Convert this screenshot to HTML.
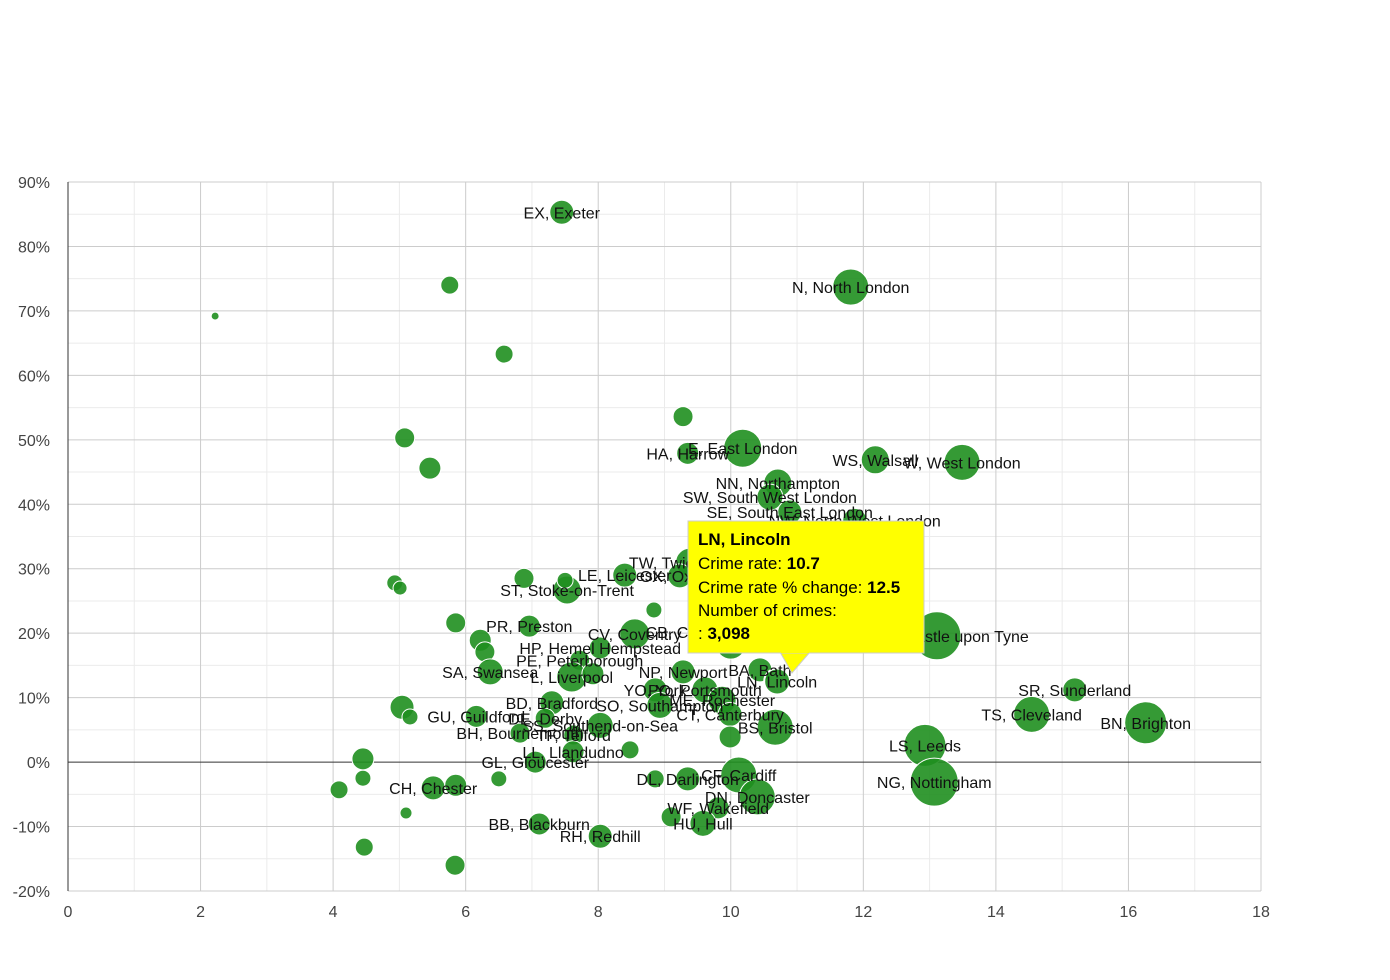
<!DOCTYPE html>
<html><head><meta charset="utf-8"><style>
body{margin:0;background:#fff;}
svg{display:block;font-family:"Liberation Sans",Arial,sans-serif;}
</style></head><body>
<svg id="chart" width="1390" height="980" viewBox="0 0 1390 980">
<g id="grid"></g>
<g id="axes"></g>
<g id="bubbles"></g>
<g id="labels"></g>
<g id="tooltip">
<polygon points="780,652 810,652 792,673" fill="#ffff00" stroke="#cccccc"/>
<rect x="688" y="521" width="236" height="132" fill="#ffff00" stroke="#cccccc"/>
<rect x="781" y="650" width="28" height="3" fill="#ffff00"/>
<text x="698" y="545" font-size="17" font-weight="bold">LN, Lincoln</text>
<text x="698" y="569" font-size="17">Crime rate: <tspan font-weight="bold">10.7</tspan></text>
<text x="698" y="593" font-size="17">Crime rate % change: <tspan font-weight="bold">12.5</tspan></text>
<text x="698" y="616" font-size="17">Number of crimes:</text>
<text x="698" y="639" font-size="17">: <tspan font-weight="bold">3,098</tspan></text>
</g>
</svg>
<script>
const labels=["EX, Exeter","N, North London","","","","","","","HA, Harrow","E, East London","WS, Walsall","W, West London","NN, Northampton","SW, South West London","SE, South East London","NW, North West London","TW, Twickenham","LE, Leicester","OX, Oxford","ST, Stoke-on-Trent","","","","","","PR, Preston","","","","CV, Coventry","CB, Cambridge","HP, Hemel Hempstead","PE, Peterborough","SA, Swansea","L, Liverpool","","NP, Newport","BA, Bath","LN, Lincoln","PO, Portsmouth","YO, York","SO, Southampton","ME, Rochester","CT, Canterbury","BS, Bristol","BD, Bradford","GU, Guildford","","","DE, Derby","SS, Southend-on-Sea","BH, Bournemouth","TF, Telford","","LL, Llandudno","","GL, Gloucester","","","CH, Chester","","","","DL, Darlington","","CF, Cardiff","DN, Doncaster","WF, Wakefield","HU, Hull","","BB, Blackburn","RH, Redhill","","","","SR, Sunderland","TS, Cleveland","BN, Brighton","LS, Leeds","NG, Nottingham","NE, Newcastle upon Tyne","S, Sheffield","",""];
const crimeRate=[7.45,11.81,5.76,2.22,6.58,9.28,5.08,5.46,9.35,10.18,12.18,13.49,10.71,10.59,10.89,11.87,9.38,8.40,9.23,7.53,6.88,7.50,4.93,5.01,8.84,6.96,5.85,6.22,6.29,8.55,9.54,8.03,7.72,6.37,7.60,7.92,9.28,10.44,10.70,9.61,8.86,8.93,9.87,9.99,10.67,7.30,6.16,5.04,5.16,7.20,8.03,6.82,7.63,9.99,7.62,8.48,7.05,4.45,4.45,5.51,5.85,4.09,6.50,9.35,8.86,10.12,10.40,9.81,9.58,9.10,7.11,8.03,5.10,4.47,5.84,15.19,14.54,16.26,12.93,13.07,13.11,12.25,10.0,9.53];
const pctChange=[85.3,73.7,74.0,69.2,63.3,53.6,50.3,45.6,47.9,48.7,46.9,46.5,43.3,41.1,38.8,37.5,31.0,29.0,28.9,26.7,28.5,28.2,27.8,27.0,23.6,21.1,21.6,18.9,17.1,19.9,20.2,17.7,15.8,14.0,13.2,13.7,14.0,14.3,12.5,11.2,11.2,8.8,9.6,7.4,5.4,9.2,7.1,8.5,7.0,6.8,5.7,4.5,4.2,3.9,1.6,1.9,0,0.5,-2.5,-4.0,-3.6,-4.3,-2.6,-2.6,-2.6,-2.0,-5.4,-7.1,-9.5,-8.5,-9.6,-11.5,-7.9,-13.2,-16.0,11.2,7.4,6.1,2.6,-3.1,19.6,22.0,18.3,25.6];
const crimes=[2640,5940,1480,290,1480,1830,1830,2220,2220,6620,3590,5940,3590,3100,2640,2640,3590,2640,2640,3590,1830,1170,1170,900,1170,2220,1830,2220,1830,4120,2640,2220,1830,3100,4120,2220,2640,2640,3098,3100,2640,3100,3590,2640,5940,2640,2220,2640,1170,1830,3100,1830,1830,2220,2220,1480,2220,2220,1170,2640,2220,1480,1170,2640,1480,5940,5940,2220,3100,1830,2220,2640,660,1480,1830,2640,5940,8080,8080,10560,10560,4120,4120,2640];
const xTicks=[0,2,4,6,8,10,12,14,16,18];
const yTicks=[-20,-10,0,10,20,30,40,50,60,70,80,90];
const NS="http://www.w3.org/2000/svg";
const X0=68,X1=1261,Y0=891,Y1=182,xMin=0,xMax=18,yMin=-20,yMax=90;
const sx=v=>X0+(v-xMin)/(xMax-xMin)*(X1-X0);
const sy=v=>Y0-(v-yMin)/(yMax-yMin)*(Y0-Y1);
const sr=c=>0.2336*Math.sqrt(c);
function mk(tag,attrs,parent){const e=document.createElementNS(NS,tag);for(const k in attrs)e.setAttribute(k,attrs[k]);parent.appendChild(e);return e;}
const grid=document.getElementById('grid'),axes=document.getElementById('axes'),bub=document.getElementById('bubbles'),lab=document.getElementById('labels');
for(let v=xMin+1;v<xMax;v+=2){const l=mk('line',{x1:sx(v),x2:sx(v),y1:Y1,y2:Y0,stroke:'#ebebeb'},grid);}
for(let v=yMin+5;v<yMax;v+=10){const l=mk('line',{x1:X0,x2:X1,y1:sy(v),y2:sy(v),stroke:'#ebebeb'},grid);}
xTicks.forEach(v=>{if(v>0){const l=mk('line',{x1:sx(v),x2:sx(v),y1:Y1,y2:Y0,stroke:'#cccccc'},grid);}
 const t=mk('text',{x:sx(v),y:917,'text-anchor':'middle','font-size':16,fill:'#444'},axes);t.textContent=v;});
yTicks.forEach(v=>{const l=mk('line',{x1:X0,x2:X1,y1:sy(v),y2:sy(v),stroke:v===0?'#333':'#cccccc'},grid);
 const t=mk('text',{x:50,y:sy(v)+6,'text-anchor':'end','font-size':16,fill:'#444'},axes);t.textContent=v+'%';});
const ax=mk('line',{x1:X0,x2:X0,y1:Y1,y2:Y0,stroke:'#333'},axes);
crimeRate.forEach((v,i)=>{const hl=labels[i]==='LN, Lincoln';
 const c=mk('circle',{cx:sx(v),cy:sy(pctChange[i]),r:sr(crimes[i]),fill:'#1f8f1f','fill-opacity':0.9,stroke:'#ffffff','stroke-width':hl?2:1},bub);
 });
crimeRate.forEach((v,i)=>{if(!labels[i])return;
 const t=mk('text',{x:sx(v),y:sy(pctChange[i])+6,'text-anchor':'middle','font-size':16,fill:'#111'},lab);t.textContent=labels[i];
 });
</script>
</body></html>
